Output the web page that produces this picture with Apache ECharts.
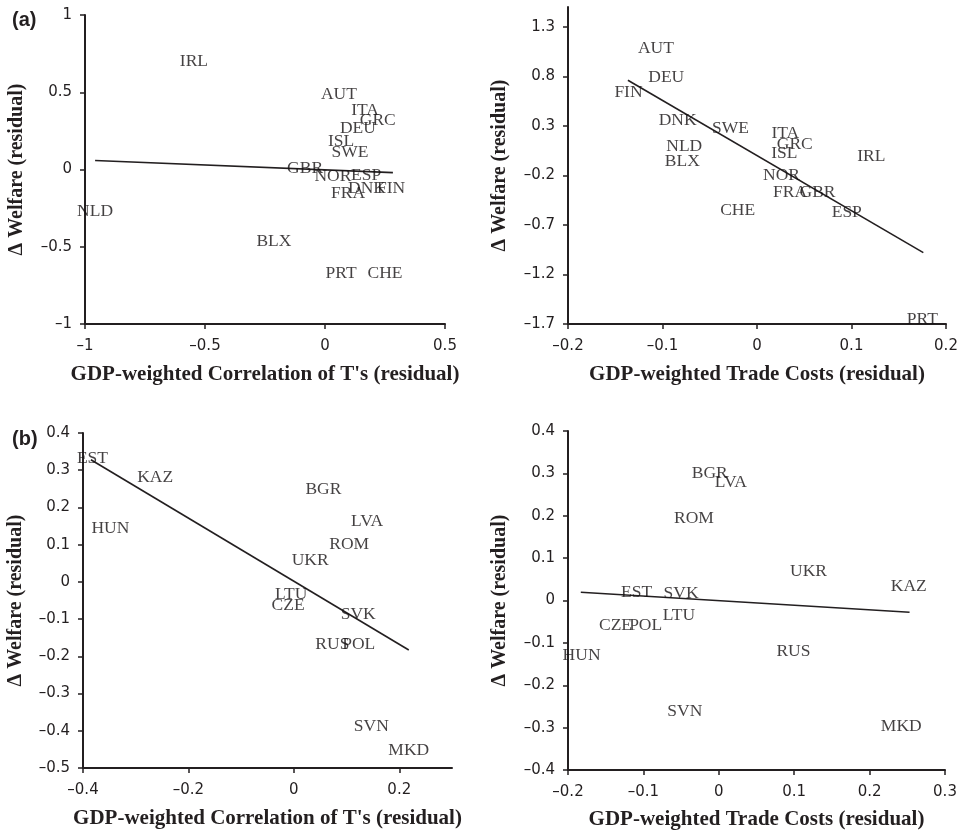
<!DOCTYPE html>
<html>
<head>
<meta charset="utf-8">
<script src="https://cdn.jsdelivr.net/npm/echarts@6/dist/echarts.min.js"></script>
<style>
  html, body { margin: 0; padding: 0; background: #ffffff; }
  #chart { width: 961px; height: 833px; }
</style>
</head>
<body>
<div id="chart"></div>
<script>
// ---------- Panel (a): Western Europe ----------
const namesA = ['IRL','AUT','ITA','GRC','DEU','ISL','SWE','GBR','NOR','ESP','DNK','FIN','FRA','NLD','BLX','PRT','CHE'];
// left: GDP-weighted correlation of T's (residual)
const corrAx = [-0.546, 0.058, 0.167, 0.220, 0.137, 0.067, 0.104, -0.083, 0.033, 0.171, 0.175, 0.275, 0.096, -0.958, -0.213, 0.067, 0.250];
const corrAy = [0.700, 0.487, 0.383, 0.318, 0.266, 0.182, 0.110, 0.006, -0.045, -0.039, -0.123, -0.123, -0.156, -0.273, -0.468, -0.675, -0.675];
// right: GDP-weighted trade costs (residual)
const costAx = [0.121, -0.107, 0.030, 0.040, -0.096, 0.029, -0.028, 0.064, 0.026, 0.095, -0.084, -0.136, 0.035, -0.077, -0.079, 0.175, -0.0205];
const costAy = [-0.005, 1.080, 0.220, 0.110, 0.790, 0.020, 0.270, -0.370, -0.200, -0.570, 0.356, 0.640, -0.370, 0.096, -0.056, -1.650, -0.553];

// ---------- Panel (b): Eastern Europe ----------
const namesB = ['EST','KAZ','BGR','HUN','LVA','ROM','UKR','LTU','CZE','SVK','RUS','POL','SVN','MKD'];
const corrBx = [-0.382, -0.263, 0.056, -0.348, 0.139, 0.105, 0.031, -0.005, -0.011, 0.122, 0.073, 0.123, 0.147, 0.218];
const corrBy = [0.332, 0.280, 0.249, 0.143, 0.162, 0.102, 0.058, -0.034, -0.064, -0.088, -0.168, -0.168, -0.387, -0.454];
const costBx = [-0.109, 0.252, -0.012, -0.182, 0.016, -0.033, 0.119, -0.053, -0.137, -0.050, 0.099, -0.097, -0.045, 0.242];
const costBy = [0.020, 0.033, 0.299, -0.130, 0.279, 0.193, 0.069, -0.036, -0.059, 0.017, -0.120, -0.059, -0.262, -0.296];

// ---------- Fitted trend lines (endpoints) ----------
const trendCorrA = [[-0.958, 0.058], [0.283, -0.020]];
const trendCostA = [[-0.1366, 0.760], [0.176, -0.980]];
const trendCorrB = [[-0.385, 0.328], [0.218, -0.183]];
const trendCostB = [[-0.183, 0.0196], [0.253, -0.0276]];

// ---------- Tick labels ----------
const ticksCorrAx = [-1, -0.5, 0, 0.5];
const ticksCorrAy = [-1, -0.5, 0, 0.5, 1];
const ticksCostAx = [-0.2, -0.1, 0, 0.1, 0.2];
const ticksCostAy = [-1.7, -1.2, -0.7, -0.2, 0.3, 0.8, 1.3];
const ticksCorrBx = [-0.4, -0.2, 0, 0.2];
const ticksCorrBy = [-0.5, -0.4, -0.3, -0.2, -0.1, 0, 0.1, 0.2, 0.3, 0.4];
const ticksCostBx = [-0.2, -0.1, 0, 0.1, 0.2, 0.3];
const ticksCostBy = [-0.4, -0.3, -0.2, -0.1, 0, 0.1, 0.2, 0.3, 0.4];

const ink = '#231f20';
const fmt = v => String(v).replace('-', '\u2013');

function makeAxis(type, gridIndex, min, max, ticks, name, gap) {
  return {
    type: 'value',
    gridIndex: gridIndex,
    min: min, max: max,
    name: name,
    nameLocation: 'middle',
    nameRotate: type === 'y' ? 90 : 0,
    nameGap: gap,
    nameTextStyle: { fontFamily: 'Liberation Serif', fontWeight: 'bold', fontSize: type === 'y' ? 20 : 21, color: ink },
    axisLine: { show: true, onZero: false, lineStyle: { color: ink, width: 2 } },
    axisTick: { show: true, inside: false, length: 5, customValues: ticks, lineStyle: { color: ink, width: 1.5 } },
    axisLabel: { show: true, customValues: ticks, margin: type === 'y' ? 13 : 15, formatter: fmt,
                 fontFamily: 'DejaVu Sans', fontSize: 15, color: ink },
    splitLine: { show: false }
  };
}

function pts(names, xs, ys) {
  return names.map((n, i) => ({ name: n, value: [xs[i], ys[i]] }));
}

function labelSeries(idx, names, xs, ys) {
  return {
    type: 'scatter',
    xAxisIndex: idx, yAxisIndex: idx,
    data: pts(names, xs, ys),
    symbolSize: 1,
    itemStyle: { color: 'rgba(0,0,0,0)' },
    label: { show: true, position: 'inside', formatter: p => p.name,
             fontFamily: 'Liberation Serif', fontSize: 17.5, color: '#151213' },
    emphasis: { disabled: true },
    z: 3,
    silent: true
  };
}

function lineSeries(idx, data) {
  return {
    type: 'line',
    xAxisIndex: idx, yAxisIndex: idx,
    data: data,
    symbol: 'none',
    lineStyle: { color: ink, width: 1.6 },
    z: 2,
    silent: true
  };
}

const yName = '\u0394 Welfare (residual)';
const xNameCorr = "GDP-weighted Correlation of T's (residual)";
const xNameCost = 'GDP-weighted Trade Costs (residual)';

const option = {
  backgroundColor: '#ffffff',
  animation: false,
  title: [
    { text: '(a)', left: 7, top: 5, textStyle: { fontFamily: 'Liberation Sans', fontWeight: 'bold', fontSize: 20, color: ink } },
    { text: '(b)', left: 7, top: 424, textStyle: { fontFamily: 'Liberation Sans', fontWeight: 'bold', fontSize: 20, color: ink } }
  ],
  grid: [
    { left: 85, top: 15, width: 360, height: 309 },
    { left: 568, top: 7, width: 378, height: 317 },
    { left: 83, top: 433, width: 369, height: 335 },
    { left: 568, top: 431, width: 377, height: 339 }
  ],
  xAxis: [
    makeAxis('x', 0, -1, 0.5, ticksCorrAx, xNameCorr, 40),
    makeAxis('x', 1, -0.2, 0.2, ticksCostAx, xNameCost, 40),
    makeAxis('x', 2, -0.4, 0.3, ticksCorrBx, xNameCorr, 40),
    makeAxis('x', 3, -0.2, 0.3, ticksCostBx, xNameCost, 39)
  ],
  yAxis: [
    makeAxis('y', 0, -1, 1, ticksCorrAy, yName, 58),
    makeAxis('y', 1, -1.7, 1.5, ticksCostAy, yName, 58),
    makeAxis('y', 2, -0.5, 0.4, ticksCorrBy, yName, 57),
    makeAxis('y', 3, -0.4, 0.4, ticksCostBy, yName, 58)
  ],
  series: [
    lineSeries(0, trendCorrA), labelSeries(0, namesA, corrAx, corrAy),
    lineSeries(1, trendCostA), labelSeries(1, namesA, costAx, costAy),
    lineSeries(2, trendCorrB), labelSeries(2, namesB, corrBx, corrBy),
    lineSeries(3, trendCostB), labelSeries(3, namesB, costBx, costBy)
  ]
};

const chart = echarts.init(document.getElementById('chart'), null, { renderer: 'canvas' });
chart.setOption(option);
</script>
</body>
</html>
